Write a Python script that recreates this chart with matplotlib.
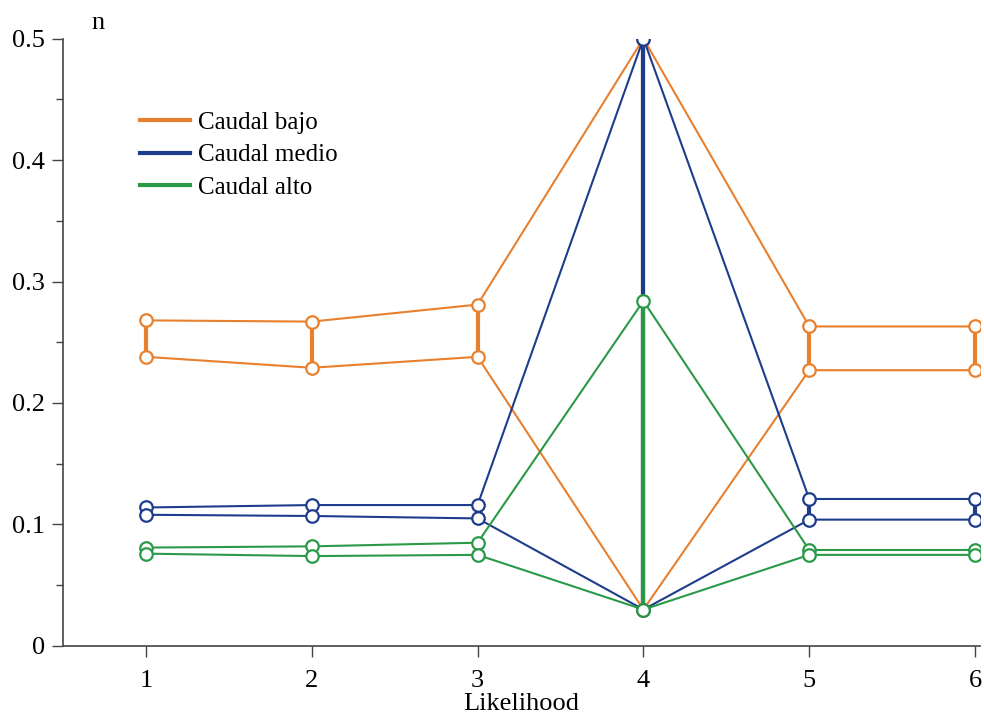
import numpy as np
import matplotlib
matplotlib.use("Agg")
import matplotlib.pyplot as plt
from matplotlib.lines import Line2D

plt.rcParams['font.family'] = ['Liberation Serif', 'DejaVu Serif']

x = [1, 2, 3, 4, 5, 6]

bajo_hi = [0.268, 0.267, 0.281, 0.500, 0.263, 0.263]
bajo_lo = [0.238, 0.229, 0.238, 0.030, 0.227, 0.227]
medio_hi = [0.114, 0.116, 0.116, 0.500, 0.121, 0.121]
medio_lo = [0.108, 0.107, 0.105, 0.030, 0.104, 0.104]
alto_hi = [0.081, 0.082, 0.085, 0.284, 0.079, 0.079]
alto_lo = [0.076, 0.074, 0.075, 0.030, 0.075, 0.075]

y_ticks = [0, 0.1, 0.2, 0.3, 0.4, 0.5]
y_labels = ["0", "0.1", "0.2", "0.3", "0.4", "0.5"]
y_minor = [0.05, 0.15, 0.25, 0.35, 0.45]

names = ["Caudal bajo", "Caudal medio", "Caudal alto"]
colors = ["#E8802E", "#1D3D8C", "#2A9A48"]
series = [(bajo_hi, bajo_lo), (medio_hi, medio_lo), (alto_hi, alto_lo)]

fig = plt.figure(figsize=(9.84, 7.2), dpi=100)
ax = fig.add_axes([0.064, 0.1028, 0.932, 0.8437])

# thick vertical bar between upper and lower line, then both lines with open circles
for (hi, lo), c in zip(series, colors):
    ax.vlines(x, lo, hi, color=c, lw=3, zorder=2)
    for vals in (hi, lo):
        ax.plot(x, vals, color=c, lw=1.5, marker='o', ms=9,
                mfc='white', mec=c, mew=1.6, zorder=3)

ax.set_xlim(0.5, 6.03)
ax.set_ylim(0, 0.5)
ax.set_xticks(x)
ax.set_yticks(y_ticks, y_labels)
ax.set_yticks(y_minor, minor=True)

for s in ["top", "right"]:
    ax.spines[s].set_visible(False)
for s in ["left", "bottom"]:
    ax.spines[s].set_color("#444444")
    ax.spines[s].set_linewidth(1.2)

ax.tick_params(axis='both', which='major', direction='out', length=8,
               width=1, color="#444444", labelsize=19)
ax.tick_params(axis='y', which='major', pad=5)
ax.tick_params(axis='x', which='major', pad=9)
ax.tick_params(axis='y', which='minor', direction='out', length=5,
               width=1, color="#444444")

ax.set_xlabel("Likelihood", fontsize=19, labelpad=1)
fig.text(0.093, 0.968, "n", fontsize=19, ha='left', va='center')

handles = [Line2D([0], [0], color=c, lw=3) for c in colors]
ax.legend(handles, names, loc='upper left', bbox_to_anchor=(0.084, 0.88),
          frameon=False, fontsize=18, handlelength=2.0, handletextpad=0.32,
          labelspacing=0.4, borderaxespad=0, borderpad=0)

fig.savefig("out.png", dpi=100)
